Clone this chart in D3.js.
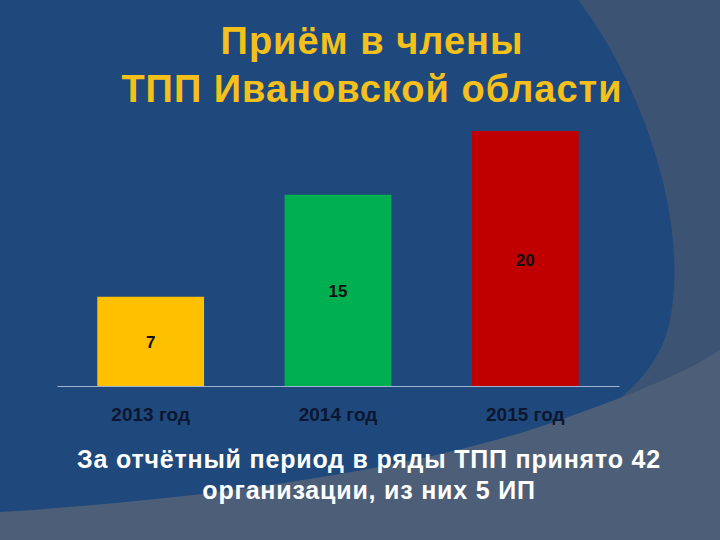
<html>
<head>
<meta charset="utf-8">
<style>
body { margin: 0; background: #1f497d; }
svg { display: block; }
text { font-family: "Liberation Sans", Arial, sans-serif; }
</style>
</head>
<body>
<svg width="720" height="540"></svg>
<script src="https://d3js.org/d3.v7.min.js"></script>
<script>
// chart data
var years = ["2013 год", "2014 год", "2015 год"];
var members = [7, 15, 20];
var barColors = ["#ffc000", "#00b050", "#c00000"];
var titleLines = ["Приём в члены", "ТПП Ивановской области"];
var noteLines = ["За отчётный период в ряды ТПП принято 42", "организации, из них 5 ИП"];

var svg = d3.select("svg");

// background shapes
svg.append("rect").attr("width", 720).attr("height", 540).attr("fill", "#3c5373");
svg.append("path")
  .attr("d", "M0,0 L578,0 C640,80 690,220 670,320 C660,370 620,420 480,470 L0,540 Z")
  .attr("fill", "#1f497d");
svg.append("path")
  .attr("d", "M0,512 C200,500 420,470 560,420 C640,392 690,370 720,350 L720,540 L0,540 Z")
  .attr("fill", "#4d5f78");

// title
svg.append("g").selectAll("text")
  .data(titleLines)
  .enter().append("text")
  .attr("x", 372)
  .attr("y", function(d, i) { return 54 + i * 48; })
  .attr("text-anchor", "middle")
  .attr("font-size", 38)
  .attr("font-weight", "bold")
  .attr("letter-spacing", 1)
  .attr("fill", "#f5c01a")
  .text(function(d) { return d; });

var x = d3.scaleBand().domain(years).range([57, 619]).paddingInner(0.43).paddingOuter(0.215);
var y = d3.scaleLinear().domain([0, 20]).range([386, 131]);

var plot = svg.append("g");

plot.selectAll("rect.bar")
  .data(members)
  .enter().append("rect")
  .attr("class", "bar")
  .attr("x", function(d, i) { return x(years[i]); })
  .attr("y", function(d) { return y(d); })
  .attr("width", x.bandwidth())
  .attr("height", function(d) { return y(0) - y(d); })
  .attr("fill", function(d, i) { return barColors[i]; });

plot.selectAll("text.val")
  .data(members)
  .enter().append("text")
  .attr("class", "val")
  .attr("x", function(d, i) { return x(years[i]) + x.bandwidth() / 2; })
  .attr("y", function(d) { return (y(d) + y(0)) / 2 + 7; })
  .attr("text-anchor", "middle")
  .attr("font-size", 17)
  .attr("font-weight", "bold")
  .attr("fill", "#111")
  .text(function(d) { return d; });

// x axis
var axis = svg.append("g")
  .attr("transform", "translate(0," + y(0) + ")")
  .call(d3.axisBottom(x).tickSize(0).tickPadding(22));
axis.select(".domain").attr("stroke", "#9fb3d3").attr("stroke-width", 1);
axis.selectAll(".tick text")
  .attr("font-size", 19)
  .attr("font-weight", "bold")
  .attr("font-family", "'Liberation Sans', Arial, sans-serif")
  .style("fill", "#0c1630");

// note
svg.append("g").selectAll("text")
  .data(noteLines)
  .enter().append("text")
  .attr("x", 369)
  .attr("y", function(d, i) { return 468 + i * 31; })
  .attr("text-anchor", "middle")
  .attr("font-size", 25)
  .attr("font-weight", "bold")
  .attr("letter-spacing", 0.8)
  .attr("fill", "#ffffff")
  .text(function(d) { return d; });
</script>
</body>
</html>
